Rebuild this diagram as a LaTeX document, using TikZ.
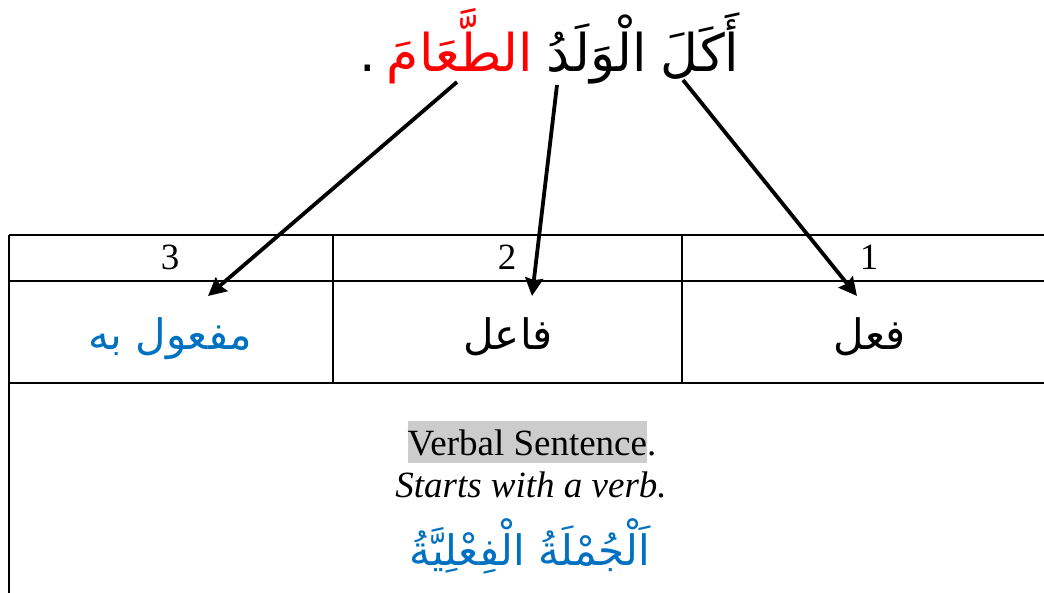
\documentclass[tikz,border=0pt]{standalone}
\usepackage{fontspec}
\setmainfont{Liberation Serif}
\newfontfamily\arabicfont[Script=Arabic]{DejaVu Sans}
\TeXXeTstate=1
\usepackage{xcolor}
\usetikzlibrary{arrows.meta, positioning, calc}

\definecolor{wordblue}{RGB}{0,112,192}
\definecolor{markgray}{RGB}{204,204,204}

\begin{document}
\begin{tikzpicture}[x=0.5pt, y=-0.5pt,
        word/.style={font={\fontsize{26}{30}\selectfont\arabicfont}, inner sep=0pt, anchor=base},
        role/.style={font={\fontsize{21}{25}\selectfont\arabicfont}, inner sep=0pt, anchor=base},
        num/.style={font={\fontsize{18.5}{21}\selectfont}, inner sep=0pt, anchor=base},
        note/.style={font={\fontsize{18.5}{21}\selectfont}, inner sep=0pt, anchor=base},
        grid/.style={line width=1pt},
        arrow/.style={line width=1.9pt, -{Stealth[length=9pt, width=9pt, inset=1pt]}}
    ]
        \useasboundingbox (0,0) rectangle (1044,593);

        % Sentence (Top Row)
        \node (akala) [word] at (700, 72) {\beginR أَكَلَ\endR};
        \node (walad) [word] at (597, 72) {\beginR الْوَلَدُ\endR};
        \node (taam) [word, text=red] at (460, 72) {\beginR الطَّعَامَ\endR};
        \node (stop) [word] at (368, 72) {.};

        % Table grid
        \draw [grid] (9, 235) -- (1044, 235);
        \draw [grid] (9, 281) -- (1044, 281);
        \draw [grid] (9, 383) -- (1044, 383);
        \draw [grid] (9, 235) -- (9, 593);
        \draw [grid] (333, 235) -- (333, 383);
        \draw [grid] (682, 235) -- (682, 383);

        % Header row
        \node (n3) [num] at (170, 270) {3};
        \node (n2) [num] at (507, 270) {2};
        \node (n1) [num] at (869, 270) {1};

        % Roles
        \node (object) [role, text=wordblue] at (170, 350) {\beginR مفعول به\endR};
        \node (agent) [role] at (508, 350) {\beginR فاعل\endR};
        \node (verb) [role] at (870, 350) {\beginR فعل\endR};

        % Bottom cell
        \node (title) [note] at (532, 455) {\setlength{\fboxsep}{0pt}\colorbox{markgray}{\rule[-4pt]{0pt}{21pt}Verbal Sentence}.};
        \node (rule) [note, font={\fontsize{18.5}{21}\selectfont\itshape}] at (531, 497) {Starts with a verb.};
        \node (arname) [role, text=wordblue] at (530, 565) {\beginR اَلْجُمْلَةُ الْفِعْلِيَّةُ\endR};

        % Arrow tips
        \coordinate (tip3) at (208, 296);
        \coordinate (tip2) at (532, 296);
        \coordinate (tip1) at (857, 296);

        % Flows
        \draw [arrow] ([xshift=-1.5pt, yshift=-5pt]taam.base) -- (tip3);
        \draw [arrow] ([xshift=-20pt, yshift=-6.5pt]walad.base) -- (tip2);
        \draw [arrow] ([xshift=-8.5pt, yshift=-4pt]akala.base) -- (tip1);
    \end{tikzpicture}
\end{document}
